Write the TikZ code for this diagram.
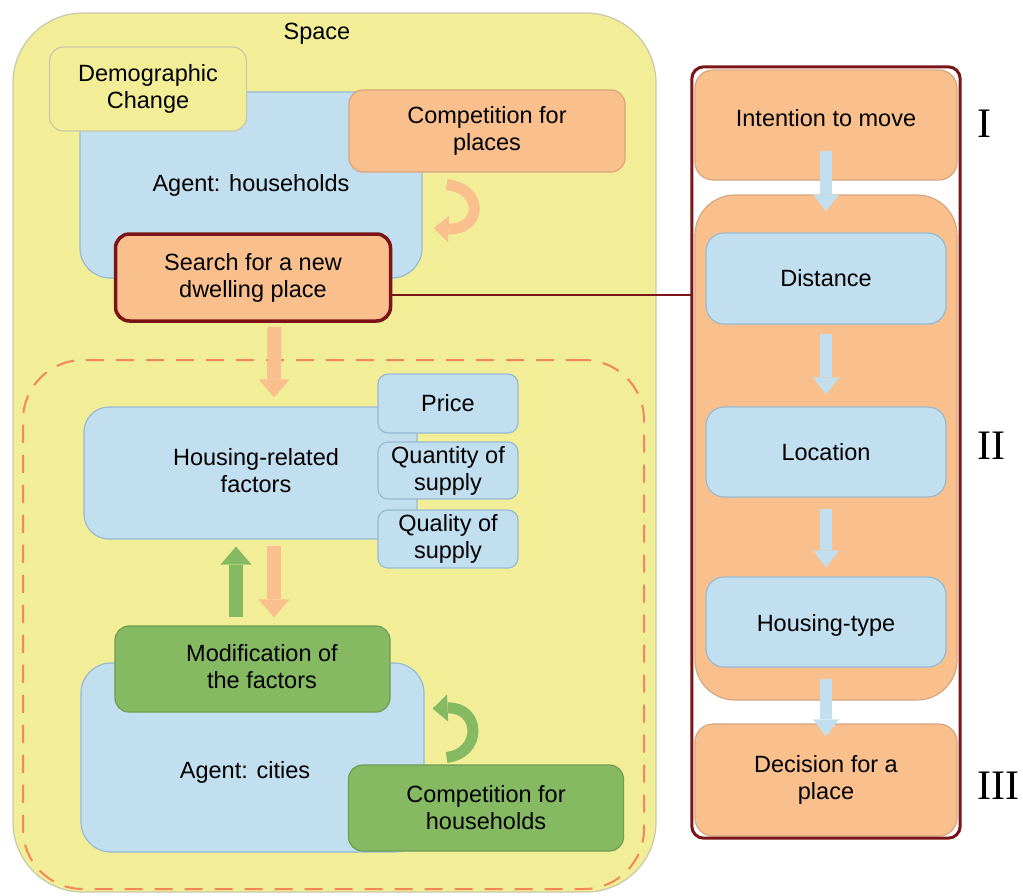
\documentclass[tikz,border=0pt]{standalone}
\usepackage{fontspec}
\setmainfont{Liberation Sans}
\newfontfamily\romfont{Liberation Serif}
\usetikzlibrary{arrows.meta}
\definecolor{spacey}{HTML}{F2EE98}
\definecolor{spaceb}{HTML}{C9C8A8}
\definecolor{blu}{HTML}{C2DFF0}
\definecolor{blub}{HTML}{97BAD0}
\definecolor{ora}{HTML}{F9C08E}
\definecolor{orab}{HTML}{D9A57E}
\definecolor{grn}{HTML}{86BA62}
\definecolor{grnb}{HTML}{6F9C52}
\definecolor{dred}{HTML}{7A1417}
\definecolor{dashc}{HTML}{F3865A}
\begin{document}
\begin{tikzpicture}[x=1pt,y=-1pt,
  txt/.style={font=\fontsize{23.5}{27}\selectfont, align=center, inner sep=0pt},
  box/.style={rectangle, draw, line width=1.2pt, inner sep=0pt, txt},
  yb/.style={box, fill=spacey, draw=spaceb},
  bb/.style={box, fill=blu, draw=blub},
  ob/.style={box, fill=ora, draw=orab},
  gb/.style={box, fill=grn, draw=grnb},
  barrow/.style={line width=14pt, -{Triangle[width=31pt,length=18pt,line width=0pt]}},
  sarrow/.style={line width=12pt, blu, -{Triangle[width=26pt,length=17pt,line width=0pt]}},
  carrow/.style={line width=11pt, -{Triangle[width=27pt,length=15pt,line width=0pt]}},
  numeral/.style={font=\romfont\fontsize{42}{42}\selectfont, inner sep=0pt, anchor=west}
]
\useasboundingbox (0,0) rectangle (1023,895);

% ---- Space ----
\node[yb, rounded corners=70pt, minimum width=643pt, minimum height=879pt] (space) at (334.5,452.5) {};
\node[txt] (spacelbl) at (317,34) {Space};

% households agent
\node[bb, rounded corners=30pt, minimum width=342pt, minimum height=186pt] (hh) at (251,185) {Agent: households};
\node[yb, rounded corners=14pt, minimum width=197pt, minimum height=84pt] (demo) at (148,89) {Demographic\\Change};
\node[ob, rounded corners=14pt, minimum width=276pt, minimum height=82pt] (cfp) at (487,131) {Competition for\\places};
\node[ob, draw=dred, line width=3.5pt, rounded corners=14pt, minimum width=275pt, minimum height=87pt] (search) at (253,277.5) {Search for a new\\dwelling place};

% orange curved arrow
\coordinate (oc1) at ([xshift=-179pt,yshift=-12pt]cfp.south east);
\coordinate (oc2) at ([xshift=41.5pt,yshift=4pt]search.north east);
\draw[carrow, ora] (oc1) .. controls ++(38,4) and ++(48,2) .. (oc2);

% dashed area
\node[rectangle, draw=dashc, line width=2pt, dash pattern=on 18pt off 12pt, rounded corners=60pt, minimum width=621pt, minimum height=529pt] (dashed) at (333.5,624.5) {};

% housing related factors
\node[bb, rounded corners=25pt, minimum width=333pt, minimum height=132pt] (hrf) at (250.5,473) {};
\node[txt] (hrflbl) at (256,470.5) {Housing-related\\factors};
\node[bb, rounded corners=10pt, minimum width=140pt, minimum height=59pt] (price) at (448,403.5) {Price};
\node[bb, rounded corners=10pt, minimum width=140pt, minimum height=57pt] (qty) at (448,470.5) {Quantity of\\supply};
\node[bb, rounded corners=10pt, minimum width=140pt, minimum height=58pt] (qual) at (448,539) {Quality of\\supply};

% cities agent
\node[bb, rounded corners=30pt, minimum width=343pt, minimum height=189pt] (cities) at (252.5,757.5) {};
\node[txt] (citieslbl) at (245,772) {Agent: cities};
\node[gb, rounded corners=14pt, minimum width=275pt, minimum height=86pt] (mod) at (252.5,669) {};
\node[txt] (modlbl) at (262,667) {Modification of\\the factors};
\node[gb, rounded corners=14pt, minimum width=275pt, minimum height=86pt] (cfh) at (486,808) {Competition for\\households};

% green curved arrow
\coordinate (gc1) at ([xshift=-177.5pt,yshift=7pt]cfh.north east);
\coordinate (gc2) at ([xshift=42pt,yshift=4pt]mod.south east);
\draw[carrow, grn] (gc1) .. controls ++(36,-4) and ++(48,-2) .. (gc2);

% straight block arrows (left)
\draw[barrow, ora] ([xshift=21.5pt,yshift=-4pt]search.south) -- ([xshift=23.5pt,yshift=9pt]hrf.north);
\draw[barrow, grn] ([xshift=-16.5pt,yshift=8pt]mod.north) -- ([xshift=-14.5pt,yshift=-7pt]hrf.south);
\draw[barrow, ora] ([xshift=23.5pt,yshift=-6pt]hrf.south) -- ([xshift=21.5pt,yshift=8pt]mod.north);

% ---- right panel ----
\node[rectangle, fill=white, rounded corners=12pt, minimum width=268pt, minimum height=771pt, inner sep=0pt] (panel) at (826,452.5) {};
\node[ob, rounded corners=18pt, minimum width=262pt, minimum height=110pt] (intent) at (826,125) {};
\node[txt] (intentlbl) at (826,118) {Intention to move};
\node[ob, rounded corners=40pt, minimum width=262pt, minimum height=505pt] (stage) at (826,447.5) {};
\node[bb, rounded corners=18pt, minimum width=240pt, minimum height=91pt] (dist) at (826,278.5) {Distance};
\node[bb, rounded corners=18pt, minimum width=240pt, minimum height=90pt] (loc) at (826,452) {Location};
\node[bb, rounded corners=18pt, minimum width=240pt, minimum height=90pt] (htype) at (826,622) {};
\node[txt] (htypelbl) at (826,625) {Housing-type};
\node[ob, rounded corners=18pt, minimum width=262pt, minimum height=112pt] (decision) at (826,780) {Decision for a\\place};

\draw[sarrow] ([yshift=30pt]intent.south) -- ([yshift=-17pt]stage.north);
\draw[sarrow] ([yshift=-9pt]dist.south) -- ([yshift=12pt]loc.north);
\draw[sarrow] ([yshift=-11pt]loc.south) -- ([yshift=9pt]htype.north);
\draw[sarrow] ([yshift=-11pt]htype.south) -- ([yshift=-13pt]decision.north);

\draw[dred, line width=3pt, rounded corners=12pt] (panel.north west) rectangle (panel.south east);

% connector
\coordinate (sj) at ([yshift=-17.5pt]search.east);
\draw[dred, line width=2.8pt] (sj) -- (sj -| panel.west);

% numerals
\node[numeral] (n1) at (977,124) {I};
\node[numeral] (n2) at (977,446) {II};
\node[numeral] (n3) at (977,786) {III};
\end{tikzpicture}
\end{document}
